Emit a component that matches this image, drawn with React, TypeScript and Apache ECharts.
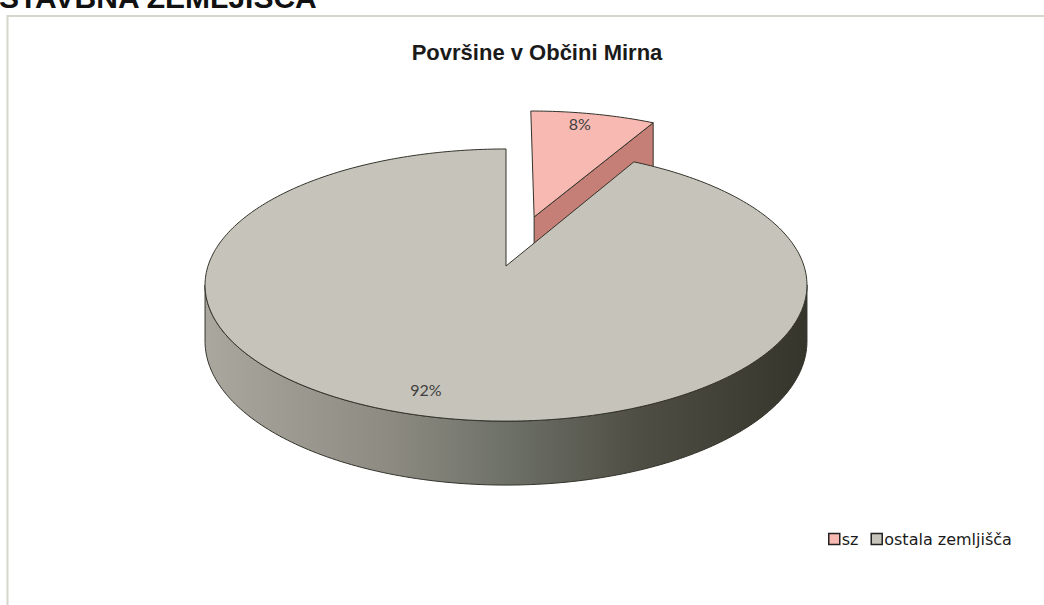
import React, { useEffect, useRef } from "react";
import * as echarts from "echarts";

const pageHeading = "STAVBNA ZEMLJIŠČA";
const chartTitle = "Površine v Občini Mirna";
const categories = ["sz", "ostala zemljišča"];
const values = [8, 92];
const exploded = [0.4, 0];
const topColors = ["#f7b9b1", "#c6c4ba"];
const wallColors = ["#c57f77", "#8a887e"];

// projection of the tilted disc
const CX = 506;
const CY = 266;
const A = 298;
const B = 133.4;
const K = 0.14;
const H = 55;

function proj(u: number, v: number, h: number): number[] {
  const p = 1 / (1 - K * v);
  return [CX + A * u * p, CY + B * v * p + H * h * p];
}

function arcPts(a0: number, a1: number, du: number, dv: number, h: number): number[][] {
  const pts: number[][] = [];
  const steps = Math.max(2, Math.ceil(Math.abs(a1 - a0) / 1));
  for (let i = 0; i <= steps; i++) {
    const a = ((a0 + ((a1 - a0) * i) / steps) * Math.PI) / 180;
    pts.push(proj(Math.sin(a) + du, -Math.cos(a) + dv, h));
  }
  return pts;
}

const total = values.reduce((s, v) => s + v, 0);

function makeRender(idx: number) {
  return (params: any, api: any) => {
    const val = api.value(0);
    let before = 0;
    for (let i = 0; i < idx; i++) before += values[i];
    const a0 = (before / total) * 360;
    const a1 = a0 + (val / total) * 360;
    const mid = ((a0 + a1) / 2) * (Math.PI / 180);
    const e = exploded[idx];
    const du = e * Math.sin(mid);
    const dv = -e * Math.cos(mid);
    const children: any[] = [];
    const line = "#33332b";

    // visible outer wall (front half)
    const wStart = Math.max(a0, 98);
    const wEnd = Math.min(a1, 262);
    if (wEnd > wStart) {
      const topArc = arcPts(wStart, wEnd, du, dv, 0);
      const botArc = arcPts(wStart, wEnd, du, dv, 1).reverse();
      children.push({
        type: "polygon",
        shape: { points: topArc.concat(botArc) },
        style: {
          fill: new echarts.graphic.LinearGradient(0, 0, 1, 0, [
            { offset: 0, color: "#aaa89e" },
            { offset: 0.3, color: "#8e8c82" },
            { offset: 0.5, color: "#6e7168" },
            { offset: 0.72, color: "#4f4e44" },
            { offset: 1, color: "#36352b" },
          ]),
          stroke: line,
          lineWidth: 1,
        },
      });
    }

    // visible cut wall at end angle (facing front-right)
    if (a1 < 180) {
      const c0 = proj(du, dv, 0);
      const c1 = proj(du, dv, 1);
      const ar = (a1 * Math.PI) / 180;
      const e0 = proj(Math.sin(ar) + du, -Math.cos(ar) + dv, 0);
      const e1 = proj(Math.sin(ar) + du, -Math.cos(ar) + dv, 1);
      children.push({
        type: "polygon",
        shape: { points: [c0, e0, e1, c1] },
        style: { fill: wallColors[idx], stroke: line, lineWidth: 1 },
      });
    }

    // top face
    const face = [proj(du, dv, 0)].concat(arcPts(a0, a1, du, dv, 0));
    children.push({
      type: "polygon",
      shape: { points: face },
      style: { fill: topColors[idx], stroke: line, lineWidth: 1 },
    });

    // percentage label
    const r = 0.86;
    const lp = proj(r * Math.sin(mid) + du, -r * Math.cos(mid) + dv, 0);
    children.push({
      type: "text",
      x: lp[0] + (idx === 0 ? -6 : -8),
      y: lp[1] + (idx === 0 ? -3 : -2),
      style: {
        text: Math.round((val / total) * 100) + "%",
        fill: "#404040",
        font: "16px Lato, 'Open Sans', sans-serif",
        align: "center",
        verticalAlign: "middle",
      },
    });

    return { type: "group", children };
  };
}

export default function App() {
  const ref = useRef<HTMLDivElement>(null);
  useEffect(() => {
    document.body.style.margin = "0";
    const chart = echarts.init(ref.current!, null, { renderer: "svg" });
    chart.setOption({
      animation: false,
      backgroundColor: "#ffffff",
      color: topColors,
      title: {
        text: chartTitle,
        left: 532,
        top: 36,
        textAlign: "center",
        textStyle: {
          fontFamily: "'Liberation Sans', Arial, sans-serif",
          fontWeight: "bold",
          fontSize: 22,
          color: "#1a1a1a",
        },
      },
      legend: {
        data: categories,
        left: 823,
        top: 526,
        icon: "rect",
        itemWidth: 11,
        itemHeight: 11,
        itemGap: 12,
        itemStyle: { borderColor: "#222", borderWidth: 1.5 },
        textStyle: {
          fontFamily: "'DejaVu Sans', sans-serif",
          fontSize: 16,
          color: "#1a1a1a",
          padding: [0, 0, 0, -3],
        },
      },
      graphic: [
        {
          type: "rect",
          shape: { x: 7.5, y: 16, width: 1100, height: 700 },
          style: { fill: "none", stroke: "#d6d6cc", lineWidth: 2 },
          silent: true,
        },
        {
          type: "text",
          x: -1,
          y: 12,
          style: {
            text: pageHeading,
            font: "bold 30px 'Liberation Sans', Arial, sans-serif",
            fill: "#111",
            verticalAlign: "bottom",
          },
        },
      ],
      series: categories.map((name, i) => ({
        type: "custom",
        name,
        coordinateSystem: "none",
        data: [values[i]],
        itemStyle: { color: topColors[i], borderColor: "#222", borderWidth: 1.5 },
        renderItem: makeRender(i),
      })),
    });
    return () => chart.dispose();
  }, []);
  return <div ref={ref} style={{ width: 1044, height: 605 }} />;
}
